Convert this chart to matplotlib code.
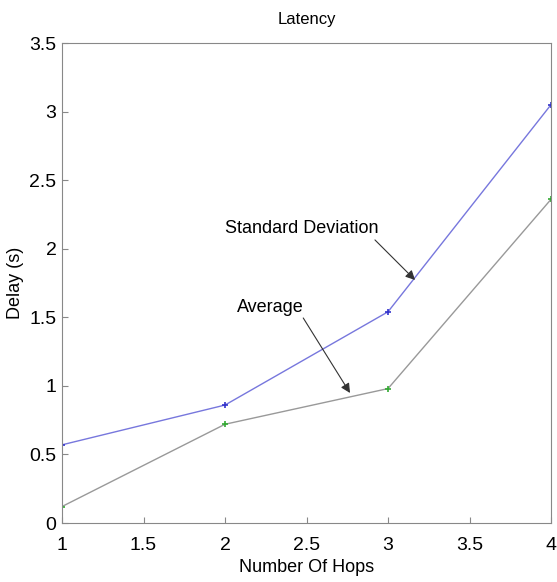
import matplotlib
matplotlib.use("Agg")
import matplotlib.pyplot as plt

plt.rcParams['font.family'] = ['Liberation Sans Narrow', 'Liberation Sans', 'DejaVu Sans']

hops = [1, 2, 3, 4]
std_dev = [0.57, 0.86, 1.54, 3.05]
average = [0.12, 0.72, 0.98, 2.36]

fig = plt.figure(figsize=(5.57, 5.82), dpi=100)
ax = fig.add_axes([62 / 557, 1 - 523 / 582, (551 - 62) / 557, (523 - 43) / 582])

ax.plot(hops, std_dev, color='#7777dd', lw=1.0)
ax.plot(hops, std_dev, ls='none', marker='+', ms=5, mew=1.2, color='#3333cc')
ax.plot(hops, average, color='#999999', lw=1.0)
ax.plot(hops, average, ls='none', marker='+', ms=5, mew=1.2, color='#33aa33')

ax.set_xlim(1, 4)
ax.set_ylim(0, 3.5)
ax.set_xticks([1, 1.5, 2, 2.5, 3, 3.5, 4])
ax.set_xticklabels(['1', '1.5', '2', '2.5', '3', '3.5', '4'])
ax.set_yticks([0, 0.5, 1, 1.5, 2, 2.5, 3, 3.5])
ax.set_yticklabels(['0', '0.5', '1', '1.5', '2', '2.5', '3', '3.5'])
ax.tick_params(direction='in', length=4, color='#888888', labelsize=14)
ax.tick_params(axis='x', pad=10)
ax.tick_params(axis='y', pad=4)
for s in ax.spines.values():
    s.set_color('#888888')

ax.set_title('Latency', fontsize=12, pad=14)
ax.set_xlabel('Number Of Hops', fontsize=13, labelpad=4)
ax.set_ylabel('Delay (s)', fontsize=13, labelpad=4)

arrow = dict(arrowstyle='-|>', color='#333333', lw=0.8, shrinkA=0, shrinkB=0,
             mutation_scale=14)
ax.text(2.47, 2.15, 'Standard Deviation', fontsize=13, ha='center', va='center')
ax.annotate('', xy=(3.166, 1.772), xytext=(2.92, 2.064), arrowprops=arrow)
ax.text(2.28, 1.575, 'Average', fontsize=13, ha='center', va='center')
ax.annotate('', xy=(2.767, 0.948), xytext=(2.48, 1.495), arrowprops=arrow)

fig.savefig('out.png', dpi=100)
